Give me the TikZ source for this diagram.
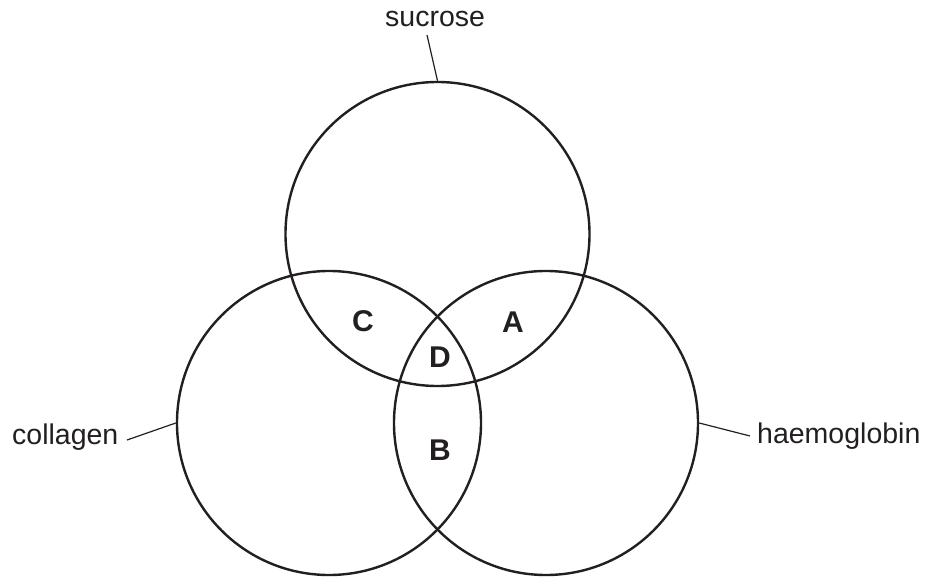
\documentclass[tikz,border=0pt]{standalone}
\usepackage{fontspec}
\setmainfont{Liberation Sans}
\definecolor{ink}{HTML}{231F20}
\begin{document}
\begin{tikzpicture}[x=1pt,y=-1pt,
  venn/.style={circle,draw=ink,line width=2.4pt,minimum size=304pt,inner sep=0pt},
  lbl/.style={inner sep=0pt,text=ink,font=\fontsize{28.5}{32}\selectfont},
  region/.style={inner sep=0pt,text=ink,font=\fontsize{30}{34}\selectfont\bfseries},
  lead/.style={draw=ink,line width=1.2pt}]
\path[use as bounding box] (0,0) rectangle (926,577);
\node[venn] (top) at (437.5,234) {};
\node[venn] (left) at (329,423) {};
\node[venn] (right) at (546,423) {};
\node[lbl,anchor=base west] (sucrose) at (385,27) {sucrose};
\node[lbl,anchor=base west] (collagen) at (12,444) {collagen};
\node[lbl,anchor=base west] (haemo) at (757,443) {haemoglobin};
\coordinate (sL) at (427,35);
\coordinate (cL) at (127,440);
\coordinate (hL) at (750,436);
\draw[lead] (sL) -- (top.north);
\draw[lead] (cL) -- (left.west);
\draw[lead] (hL) -- (right.east);
\node[region] (C) at (363,321) {C};
\node[region] (A) at (513,322) {A};
\node[region] (D) at (440,357) {D};
\node[region] (B) at (440,450) {B};
\end{tikzpicture}
\end{document}
